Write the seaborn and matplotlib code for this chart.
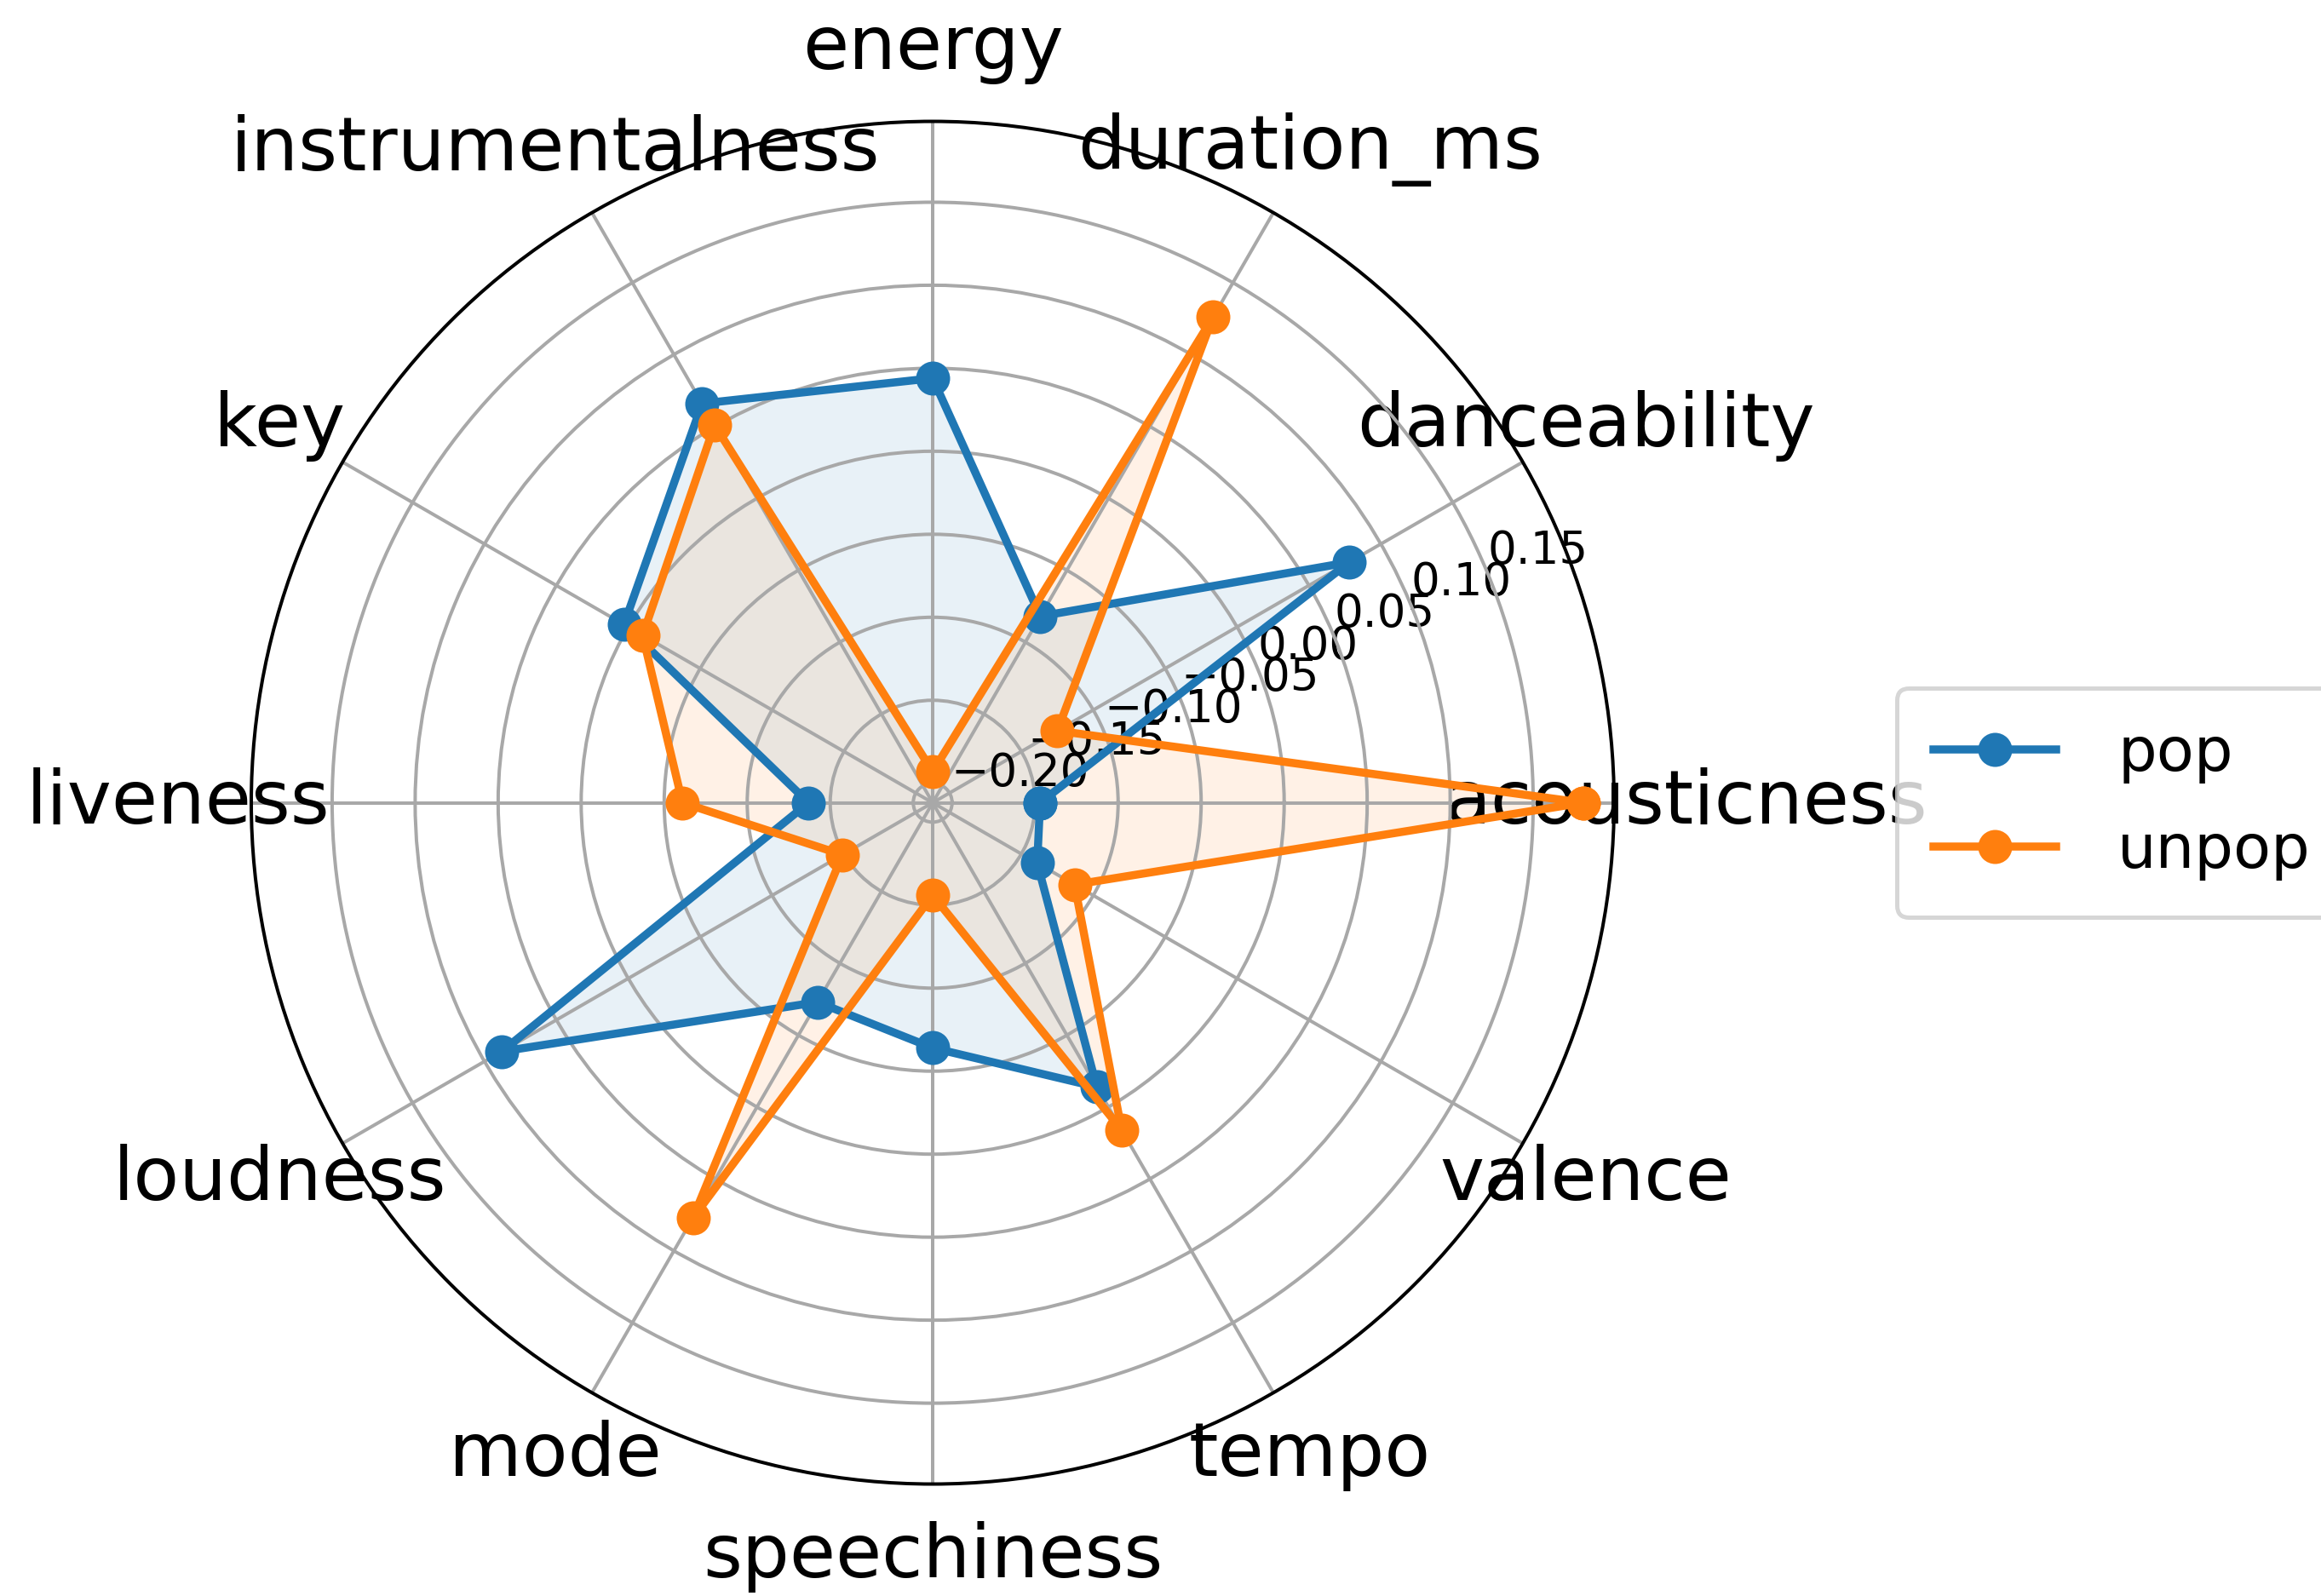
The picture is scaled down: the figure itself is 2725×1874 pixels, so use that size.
import numpy as np
import matplotlib
matplotlib.use('Agg')
import matplotlib.pyplot as plt
import seaborn as sns

# features, counter-clockwise from 0 degrees
features = ['acousticness', 'danceability', 'duration_ms', 'energy',
            'instrumentalness', 'key', 'liveness', 'loudness', 'mode',
            'speechiness', 'tempo', 'valence']
pop = [-0.147, 0.078, -0.082, 0.044, 0.066, 0.003, -0.137, 0.088,
       -0.073, -0.064, -0.014, -0.139]
unpop = [0.180, -0.125, 0.126, -0.193, 0.051, -0.010, -0.061, -0.149,
         0.077, -0.156, 0.016, -0.113]
series_names = ['pop', 'unpop']
r_ticks = [-0.20, -0.15, -0.10, -0.05, 0.00, 0.05, 0.10, 0.15]

DPI = 360
fig = plt.figure(figsize=(2725 / DPI, 1874 / DPI), dpi=DPI)
ax = fig.add_axes([0.10826, 0.0699, 0.58716, 0.8543], projection='polar')

colors = sns.color_palette('tab10', 2)
angles = np.linspace(0, 2 * np.pi, len(features), endpoint=False)
theta = np.concatenate([angles, angles[:1]])

for name, vals, c in zip(series_names, [pop, unpop], colors):
    r = np.concatenate([vals, vals[:1]])
    sns.lineplot(x=theta, y=r, sort=False, estimator=None, ax=ax, color=c,
                 marker='o', markersize=8, markeredgecolor=c, markeredgewidth=0,
                 linewidth=1.9, label=name)
    ax.fill(theta, r, color=c, alpha=0.1)

ax.set_xlabel('')
ax.set_ylabel('')
ax.set_ylim(-0.2117, 0.1987)
ax.set_yticks(r_ticks)
ax.set_yticklabels(['\u22120.20', '\u22120.15', '\u22120.10', '\u22120.05',
                    '0.00', '0.05', '0.10', '0.15'], fontsize=10.6)
ax.set_xticks(angles)
ax.set_xticklabels(features, fontsize=17.6)
ax.tick_params(axis='x', pad=6.6)
ax.grid(True, color='#a8a8a8', linewidth=0.8)

ax.legend(loc='center left', bbox_to_anchor=(1.185, 0.5), fontsize=14.4,
          labelspacing=0.62, borderpad=0.6, handletextpad=1.0)

fig.savefig('out.png', dpi=DPI)
